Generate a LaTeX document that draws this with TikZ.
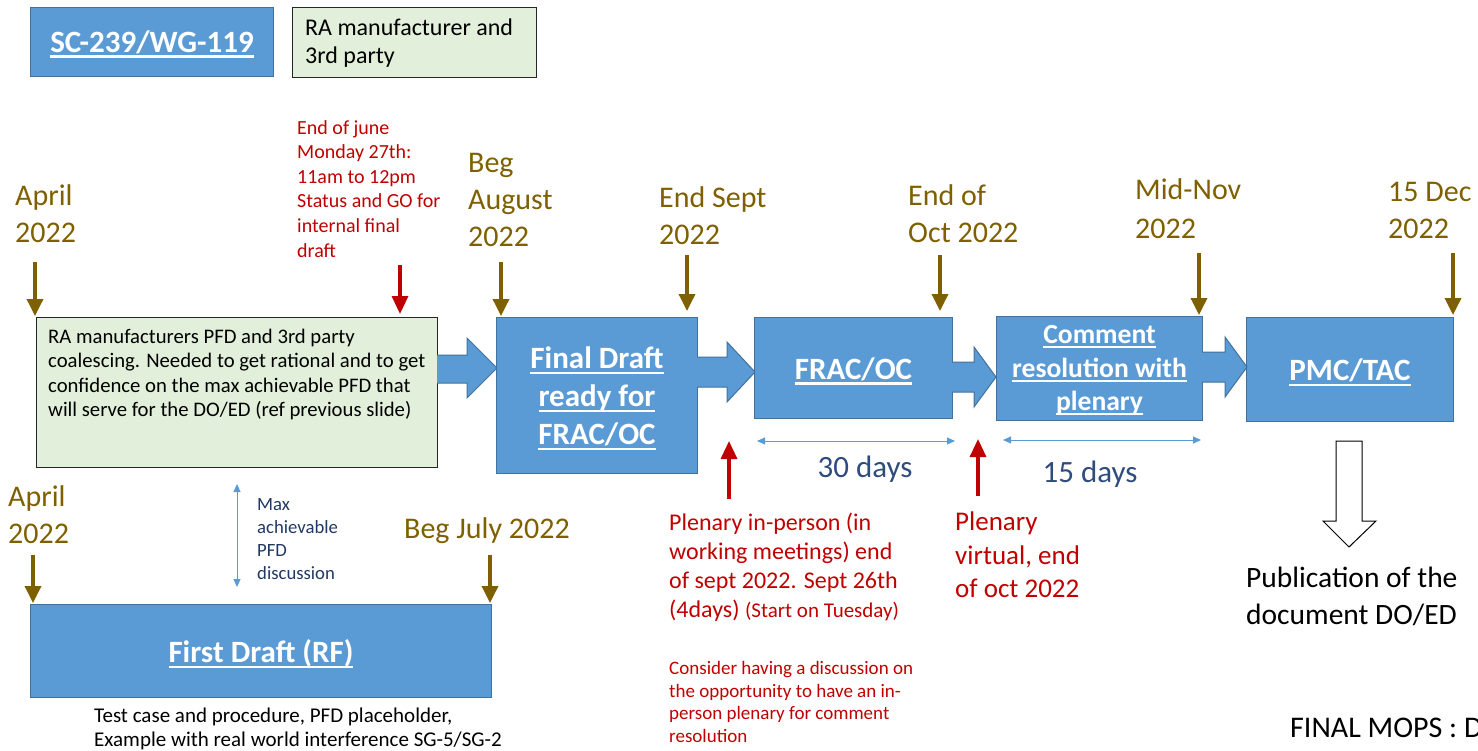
\documentclass[tikz,border=0pt]{standalone}
\usepackage{fontspec}
\setmainfont{Carlito}
\usetikzlibrary{arrows.meta}
\definecolor{boxblue}{HTML}{5B9BD5}
\definecolor{boxedge}{HTML}{41719C}
\definecolor{palegreen}{HTML}{E2EFDA}
\definecolor{mbrown}{HTML}{7F6000}
\definecolor{mred}{HTML}{C00000}
\definecolor{mnavy}{HTML}{1F3864}
\definecolor{daysblue}{HTML}{2E4C7C}
\newcommand\fsz[2]{\fontsize{#1}{#2}\selectfont}
\newcommand\uln[1]{\leavevmode\setbox0=\hbox{#1}\rlap{\vrule width \wd0 height -0.1em depth 0.17em}\box0}
\begin{document}
\begin{tikzpicture}[x=1pt,y=-1pt,
  bluebox/.style={draw=boxedge, fill=boxblue, line width=1pt, inner sep=0pt, anchor=north west, text=white, font=\bfseries, align=center},
  greenbox/.style={draw=black!85, fill=palegreen, line width=1pt, inner sep=0pt, anchor=north west},
  lbl/.style={anchor=north west, inner sep=0pt, align=left},
  mile/.style={draw=mbrown, line width=3.5pt, -{Triangle[length=17pt,width=16pt]}},
  redarr/.style={draw=mred, line width=3.3pt, -{Triangle[length=18pt,width=16pt]}},
  span/.style={draw=boxblue, line width=1pt, {Triangle[length=8pt,width=7pt]}-{Triangle[length=8pt,width=7pt]}},
  blockarr/.style={draw=boxedge, fill=boxblue, line width=1pt, line join=miter},
  datelbl/.style={lbl, text=mbrown, font=\fsz{30}{37}},
  redlbl/.style={lbl, text=mred}
]
\useasboundingbox (0,0) rectangle (1478,750);

% legend boxes
\node[bluebox, minimum width=243pt, minimum height=69pt] (sc) at (30,7) {};
\node[text=white, font=\bfseries\fsz{31}{36}] (sct) at ([yshift=-2pt]sc.center) {\uln{SC-239/WG-119}};
\node[greenbox, minimum width=244pt, minimum height=70pt] (ra) at (292,7) {};
\node[lbl, font=\fsz{24}{28}] (rat) at (305,19) {RA manufacturer and\\3rd party};

% main boxes
\node[greenbox, minimum width=401pt, minimum height=150pt] (green) at (36,317) {};
\node[lbl, font=\fsz{20.7}{24.3}] (greent) at (48,329) {RA manufacturers PFD and 3rd party\\coalescing. Needed to get rational and to get\\confidence on the max achievable PFD that\\will serve for the DO/ED (ref previous slide)};

\node[bluebox, minimum width=201pt, minimum height=156pt] (fd) at (496,317) {};
\node[text=white, font=\bfseries\fsz{31}{38}, align=center] (fdt) at ([yshift=-3pt]fd.center) {\uln{Final Draft}\\\uln{ready for}\\\uln{FRAC/OC}};

\node[bluebox, minimum width=198pt, minimum height=101pt] (frac) at (754,317) {};
\node[text=white, font=\bfseries\fsz{31}{38}] (fract) at ([yshift=-3pt]frac.center) {\uln{FRAC/OC}};

\node[bluebox, minimum width=206pt, minimum height=104pt] (cr) at (996,316) {};
\node[text=white, font=\bfseries\fsz{27.6}{33.5}, align=center] (crt) at ([yshift=-2pt]cr.center) {\uln{Comment}\\\uln{resolution with}\\\uln{plenary}};

\node[bluebox, minimum width=207pt, minimum height=104pt] (pmc) at (1246,317) {};
\node[text=white, font=\bfseries\fsz{31}{38}] (pmct) at ([yshift=-3pt]pmc.center) {\uln{PMC/TAC}};

\node[bluebox, minimum width=461pt, minimum height=93pt] (rf) at (30,604) {};
\node[text=white, font=\bfseries\fsz{31}{38}] (rft) at ([yshift=-3pt]rf.center) {\uln{First Draft (RF)}};

% block arrows
\draw[blockarr] (437,355) -- (467,355) -- (467,338) -- (497,368) -- (467,398) -- (467,383) -- (437,383);
\draw[blockarr] (697,357) -- (727,357) -- (727,342) -- (755,372) -- (727,402) -- (727,387) -- (697,387);
\draw[blockarr] (952,362) -- (974,362) -- (974,347) -- (996,377) -- (974,407) -- (974,392) -- (952,392);
\draw[blockarr] (1202,352) -- (1225,352) -- (1225,337) -- (1247,367) -- (1225,397) -- (1225,382) -- (1202,382);

% date labels
\node[datelbl] (d1) at (15,184) {April\\2022};
\node[datelbl] (d2) at (468,153) {Beg\\August\\2022};
\node[datelbl] (d3) at (659,186) {End Sept\\2022};
\node[datelbl] (d4) at (908,184) {End of\\Oct 2022};
\node[datelbl, font=\fsz{30}{39}] (d5) at (1135,178) {Mid-Nov\\2022};
\node[datelbl] (d6) at (1388,182) {15 Dec\\2022};
\node[datelbl] (d7) at (8,485) {April\\2022};
\node[datelbl] (d8) at (404,517) {Beg July 2022};

% milestone arrows
\coordinate (m1a) at (35,262);   \coordinate (m1b) at (35,316);
\coordinate (m2a) at (501,262);  \coordinate (m2b) at (501,316);
\coordinate (m3a) at (687,255);  \coordinate (m3b) at (687,311);
\coordinate (m4a) at (940,255);  \coordinate (m4b) at (940,311);
\coordinate (m5a) at (1199,253); \coordinate (m5b) at (1199,315);
\coordinate (m6a) at (1453,253); \coordinate (m6b) at (1453,315);
\coordinate (m7a) at (33,555);   \coordinate (m7b) at (33,603);
\coordinate (m8a) at (490,555);  \coordinate (m8b) at (490,603);
\foreach \i in {1,...,8} {\draw[mile] (m\i a) -- (m\i b);}

% red notes and arrows
\node[redlbl, font=\fsz{20}{24.6}] (r1) at (297,120) {End of june\\Monday 27th:\\11am to 12pm\\Status and GO for\\internal final\\draft};
\coordinate (ra1) at (400,265); \coordinate (rb1) at (400,314);
\draw[redarr] (ra1) -- (rb1);
\coordinate (ra2) at (729,499); \coordinate (rb2) at (729,441);
\draw[redarr] (ra2) -- (rb2);
\coordinate (ra3) at (978,496); \coordinate (rb3) at (978,439);
\draw[redarr] (ra3) -- (rb3);

\node[redlbl, font=\fsz{24}{29}] (r2) at (669,513) {Plenary in-person (in\\working meetings) end\\of sept 2022. Sept 26th\\(4days) {\fsz{21}{29}(Start on Tuesday)}};
\node[redlbl, font=\fsz{19}{22.7}] (r3) at (669,661) {Consider having a discussion on\\the opportunity to have an in-\\person plenary for comment\\resolution};
\node[redlbl, font=\fsz{27}{33.5}] (r4) at (955,512) {Plenary\\virtual, end\\of oct 2022};

% spans
\coordinate (s1a) at (757,441); \coordinate (s1b) at (955,441);
\draw[span] (s1a) -- (s1b);
\node[text=daysblue, font=\fsz{31}{37}, inner sep=0pt] (t30) at (865,469) {30 days};
\coordinate (s2a) at (1003,440); \coordinate (s2b) at (1201,440);
\draw[span] (s2a) -- (s2b);
\node[text=daysblue, font=\fsz{31}{37}, inner sep=0pt] (t15) at (1090,474) {15 days};
\coordinate (s3a) at (237,484); \coordinate (s3b) at (237,587);
\draw[span] (s3a) -- (s3b);
\node[lbl, text=mnavy, font=\fsz{18.7}{23}] (mx) at (257,498) {Max\\achievable\\PFD\\discussion};

% publication
\draw[black, line width=1pt, fill=white, line join=miter] (1336,441) -- (1362,441) -- (1362,521) -- (1376,521) -- (1349,547) -- (1323,521) -- (1336,521) -- cycle;
\node[lbl, font=\fsz{29.5}{37}] (pub) at (1246,567) {Publication of the\\document DO/ED};
\node[lbl, font=\fsz{30}{34}] (fin) at (1290,718) {FINAL MOPS : D};
\node[lbl, font=\fsz{21}{24}] (tc) at (94,708) {Test case and procedure, PFD placeholder,\\Example with real world interference SG-5/SG-2};
\end{tikzpicture}
\end{document}
